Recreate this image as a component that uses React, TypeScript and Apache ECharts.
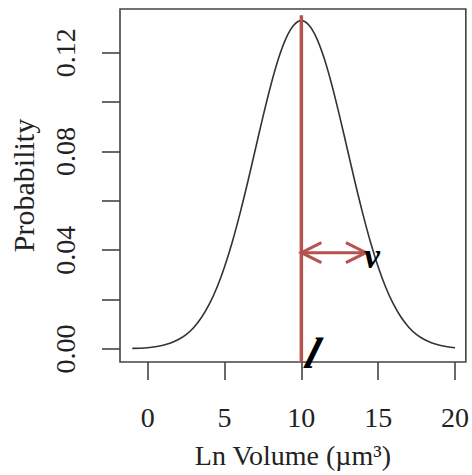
import React, { useEffect, useRef } from "react";
import * as echarts from "echarts";

const curveX = [-1, -0.5, 0, 0.5, 1, 1.5, 2, 2.5, 3, 3.5, 4, 4.5, 5, 5.5, 6, 6.5, 7, 7.5, 8, 8.5, 9, 9.5, 10,
  10.5, 11, 11.5, 12, 12.5, 13, 13.5, 14, 14.5, 15, 15.5, 16, 16.5, 17, 17.5, 18, 18.5, 19, 19.5, 20];
const curveY = [0.0002, 0.0003, 0.0005, 0.0009, 0.0015, 0.0024, 0.0038, 0.0058, 0.0087, 0.0127, 0.0180, 0.0248, 0.0332,
  0.0432, 0.0547, 0.0673, 0.0807, 0.0940, 0.1065, 0.1174, 0.1258, 0.1311, 0.1330,
  0.1311, 0.1258, 0.1174, 0.1065, 0.0940, 0.0807, 0.0673, 0.0547, 0.0432, 0.0332, 0.0248, 0.0180, 0.0127,
  0.0087, 0.0058, 0.0038, 0.0024, 0.0015, 0.0009, 0.0005];

const xTicks = [0, 5, 10, 15, 20];
const yTicks = [0, 0.02, 0.04, 0.06, 0.08, 0.1, 0.12];
const yLabels = [0, 0.04, 0.08, 0.12];

const meanX = 10;
const meanLineY = [-0.0053, 0.1352];
const arrowX = [10, 14.2];
const arrowY = 0.039;
const letterTexts = ["v", "l"];
const letterX = [14.6, 10.75];
const letterY = [0.0375, -0.0018];

const RED = "#b5534f";
const FONT = "Liberation Serif";

export default function App() {
  const ref = useRef<HTMLDivElement>(null);
  useEffect(() => {
    const chart = echarts.init(ref.current!, null, { renderer: "svg" });
    chart.setOption({
      animation: false,
      backgroundColor: "#ffffff",
      grid: { left: 118, top: 9, right: 4, bottom: 113, show: true, borderColor: "#444", borderWidth: 1.6, backgroundColor: "transparent" },
      xAxis: {
        type: "value",
        min: -1.8,
        max: 20.7,
        axisLine: { show: false, onZero: false },
        splitLine: { show: false },
        axisTick: { show: true, inside: false, customValues: xTicks, length: 18, lineStyle: { color: "#444", width: 1.6 } },
        axisLabel: { customValues: xTicks, margin: 41, color: "#222", fontFamily: FONT, fontSize: 28 },
        name: "Ln Volume (µm³)",
        nameLocation: "middle",
        nameGap: 79,
        nameTextStyle: { color: "#222", fontFamily: FONT, fontSize: 28 },
      },
      yAxis: {
        type: "value",
        min: -0.0053,
        max: 0.1377,
        axisLine: { show: false, onZero: false },
        splitLine: { show: false },
        axisTick: { show: true, inside: false, customValues: yTicks, length: 18, lineStyle: { color: "#444", width: 1.6 } },
        axisLabel: {
          customValues: yLabels,
          rotate: 90,
          margin: 41,
          color: "#222",
          fontFamily: FONT,
          fontSize: 28,
          formatter: (v: number) => v.toFixed(2),
        },
        name: "Probability",
        nameLocation: "middle",
        nameRotate: 90,
        nameGap: 82,
        nameTextStyle: { color: "#222", fontFamily: FONT, fontSize: 30 },
      },
      series: [
        {
          type: "line",
          data: curveX.map((x, i) => [x, curveY[i]]),
          showSymbol: false,
          smooth: 0.3,
          lineStyle: { color: "#333", width: 1.6 },
          z: 2,
        },
        {
          type: "line",
          data: meanLineY.map((y) => [meanX, y]),
          showSymbol: false,
          lineStyle: { color: RED, width: 3.5 },
          z: 3,
        },
        {
          type: "custom",
          clip: false,
          data: [[arrowX[0], arrowX[1], arrowY]],
          renderItem: (params: any, api: any) => {
            const p1 = api.coord([api.value(0), api.value(2)]);
            const p2 = api.coord([api.value(1), api.value(2)]);
            const hl = 20;
            const hh = 10;
            const style = { stroke: RED, lineWidth: 3, fill: null };
            return {
              type: "group",
              children: [
                { type: "line", shape: { x1: p1[0], y1: p1[1], x2: p2[0], y2: p2[1] }, style },
                { type: "polyline", shape: { points: [[p1[0] + hl, p1[1] - hh], [p1[0], p1[1]], [p1[0] + hl, p1[1] + hh]] }, style },
                { type: "polyline", shape: { points: [[p2[0] - hl, p2[1] - hh], [p2[0], p2[1]], [p2[0] - hl, p2[1] + hh]] }, style },
              ],
            };
          },
          z: 4,
        },
        {
          type: "custom",
          clip: false,
          data: letterTexts.map((t, i) => [letterX[i], letterY[i], i]),
          renderItem: (params: any, api: any) => {
            const p = api.coord([api.value(0), api.value(1)]);
            const t = letterTexts[api.value(2)];
            return {
              type: "text",
              x: p[0],
              y: p[1],
              skewX: t === "l" ? -0.3 : 0,
              style: {
                text: t,
                fill: "#000",
                font: t === "l" ? `italic bold 44px '${FONT}'` : `italic bold 36px '${FONT}'`,
                align: "center",
                verticalAlign: "middle",
              },
            };
          },
          z: 5,
        },
      ],
    });
    return () => chart.dispose();
  }, []);
  return <div ref={ref} style={{ width: 472, height: 475, position: "absolute", left: 0, top: 0 }} />;
}
